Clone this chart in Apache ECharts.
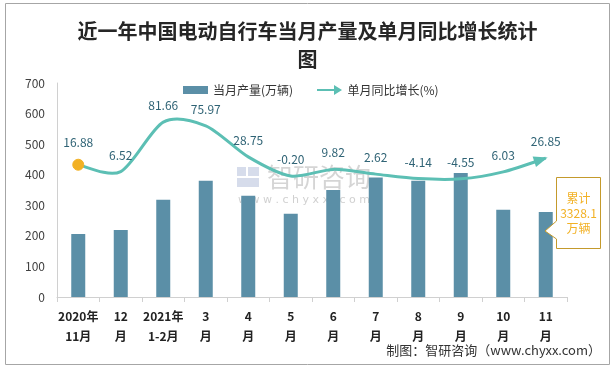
<!DOCTYPE html>
<html><head><meta charset="utf-8">
<script src="https://cdn.jsdelivr.net/npm/echarts@6/dist/echarts.min.js"></script>
<style>html,body{margin:0;padding:0;background:#fff}#c{width:615px;height:368px}</style>
</head><body><div id="c"></div>
<script>
var categories = ['2020年\n11月','12\n月','2021年\n1-2月','3\n月','4\n月','5\n月','6\n月','7\n月','8\n月','9\n月','10\n月','11\n月'];
var production = [206, 219, 318, 380, 331, 272, 350, 391, 380, 406, 285, 278];
var growth = [16.88, 6.52, 81.66, 75.97, 28.75, -0.20, 9.82, 2.62, -4.14, -4.55, 6.03, 26.85];
var yTicks = [0, 100, 200, 300, 400, 500, 600, 700];

var chart = echarts.init(document.getElementById('c'));
var F = '"Noto Sans CJK SC", "Noto Sans", sans-serif';
var LINE = '#5cbfb4';
var lineData = growth.map(function(v, i){
  if (i === 0) return {value: v, symbol: 'circle', symbolSize: 11, itemStyle: {color: '#f2b124', borderColor: '#f2b124'}};
  return {value: v, symbol: 'circle', symbolSize: 1, itemStyle: {color: 'rgba(0,0,0,0)', borderWidth: 0}};
});

function renderCurve(params, api) {
  if (params.dataIndex !== 0) return null;
  var pts = growth.map(function(v, i){ return api.coord([i, v]); });
  var n = pts.length, k = 1 / 7, lastC;
  var d = 'M' + pts[0][0] + ' ' + pts[0][1];
  for (var i = 0; i < n - 1; i++) {
    var p0 = pts[Math.max(i - 1, 0)], p1 = pts[i], p2 = pts[i + 1], p3 = pts[Math.min(i + 2, n - 1)];
    var c1x = p1[0] + (p2[0] - p0[0]) * k, c1y = p1[1] + (p2[1] - p0[1]) * k;
    var c2x = p2[0] - (p3[0] - p1[0]) * k, c2y = p2[1] - (p3[1] - p1[1]) * k;
    if (i === n - 2) { lastC = [c2x, c2y]; }
    d += ' C' + c1x + ' ' + c1y + ' ' + c2x + ' ' + c2y + ' ' + p2[0] + ' ' + p2[1];
  }
  var tip = pts[n - 1];
  var dx = tip[0] - lastC[0], dy = tip[1] - lastC[1];
  var len = Math.sqrt(dx * dx + dy * dy); dx /= len; dy /= len;
  var L = 12, W = 5.5;
  var bx = tip[0] - dx * L, by = tip[1] - dy * L;
  return {
    type: 'group',
    children: [
      {type: 'path', shape: {pathData: d}, style: {fill: null, stroke: LINE, lineWidth: 3}},
      {type: 'polygon', shape: {points: [[tip[0] + dx * 2, tip[1] + dy * 2], [bx - dy * W, by + dx * W], [bx + dy * W, by - dx * W]]}, style: {fill: LINE}}
    ]
  };
}

chart.setOption({
  animation: false,
  textStyle: {fontFamily: F},
  title: {
    text: '近一年中国电动自行车当月产量及单月同比增长统计\n图',
    left: 'center', top: 12,
    textStyle: {fontSize: 20, fontWeight: 'bold', color: '#262626', lineHeight: 28, fontFamily: F}
  },
  legend: [
    {data: [{name: '当月产量(万辆)', icon: 'rect'}], left: 178, top: 79, itemWidth: 25, itemHeight: 8,
     textStyle: {fontSize: 12, color: '#333'}},
    {data: [{name: '单月同比增长(%)', icon: 'path://M0,4 L17,4 L17,0 L25,5 L17,10 L17,6 L0,6 Z'}], left: 312, top: 79, itemWidth: 26, itemHeight: 10,
     itemStyle: {color: LINE}, lineStyle: {opacity: 0},
     textStyle: {fontSize: 12, color: '#333'}}
  ],
  grid: {left: 57, right: 48, top: 83, bottom: 71},
  xAxis: {
    type: 'category', data: categories,
    axisLine: {lineStyle: {color: '#d0d0d0'}},
    axisTick: {show: true, length: 5, lineStyle: {color: '#d0d0d0'}},
    axisLabel: {interval: 0, fontSize: 12, fontWeight: 'bold', color: '#222', lineHeight: 20, margin: 9}
  },
  yAxis: [
    {type: 'value', min: yTicks[0], max: yTicks[yTicks.length - 1], interval: 100,
     axisLine: {show: true, lineStyle: {color: '#d0d0d0'}},
     axisTick: {show: false}, splitLine: {show: false},
     axisLabel: {fontSize: 12, color: '#404040', margin: 12}},
    {type: 'value', min: -184, max: 141, show: false, splitLine: {show: false}}
  ],
  series: [
    {name: '当月产量(万辆)', type: 'bar', data: production, barWidth: 14,
     itemStyle: {color: '#5b8fa7'}, z: 1},
    {name: '单月同比增长(%)', type: 'custom', yAxisIndex: 1, renderItem: renderCurve,
     data: growth.map(function(v, i){ return [i, v]; }), encode: {x: 0, y: 1},
     itemStyle: {color: LINE}, z: 3, silent: true},
    {name: '单月同比增长(%)', type: 'line', yAxisIndex: 1, data: lineData,
     lineStyle: {color: LINE, width: 3, opacity: 0}, itemStyle: {color: LINE},
     label: {show: true, position: 'top', distance: 10, fontSize: 12, color: '#2f6375',
       formatter: function(p){ return p.value.toFixed(2); }},
     z: 4}
  ],
  graphic: [
    {type: 'rect', shape: {x: 5.5, y: 3.5, width: 604, height: 361}, style: {fill: 'none', stroke: '#a6a6a6', lineWidth: 1}, silent: true, z: -10},
    {type: 'group', z: 100, silent: true, children: [
      {type: 'rect', shape: {x: 237, y: 167, width: 9, height: 9}, style: {fill: 'rgba(120,140,190,0.3)'}},
      {type: 'rect', shape: {x: 248, y: 167, width: 11, height: 9}, style: {fill: 'rgba(120,140,190,0.3)'}},
      {type: 'rect', shape: {x: 237, y: 178, width: 22, height: 9}, style: {fill: 'rgba(120,140,190,0.3)'}},
      {type: 'text', x: 267, y: 164, style: {text: '智研咨询', font: '26px "Noto Sans CJK SC"', fill: 'rgba(150,150,150,0.4)'}},
      {type: 'text', x: 238, y: 195, style: {text: 'w w w . c h y x x . c o m', font: '11px "DejaVu Sans"', fill: 'rgba(150,150,150,0.45)'}}
    ]},
    {type: 'polygon', shape: {points: [[556.5, 177.5], [600.5, 177.5], [600.5, 248.5], [556.5, 248.5], [556.5, 239], [545, 231], [556.5, 221]]},
     style: {fill: '#fff', stroke: '#c49a2c', lineWidth: 1}, z: 50},
    {type: 'text', x: 578.5, y: 213, z: 51, style: {text: '累计\n3328.1\n万辆', font: '12px "Noto Sans CJK SC"', fill: '#f2b124', align: 'center', verticalAlign: 'middle', lineHeight: 15}},
    {type: 'text', right: 14, top: 344, style: {text: '制图：智研咨询（www.chyxx.com）', font: '13px "Noto Sans CJK SC"', fill: '#333'}}
  ]
});
</script></body></html>
